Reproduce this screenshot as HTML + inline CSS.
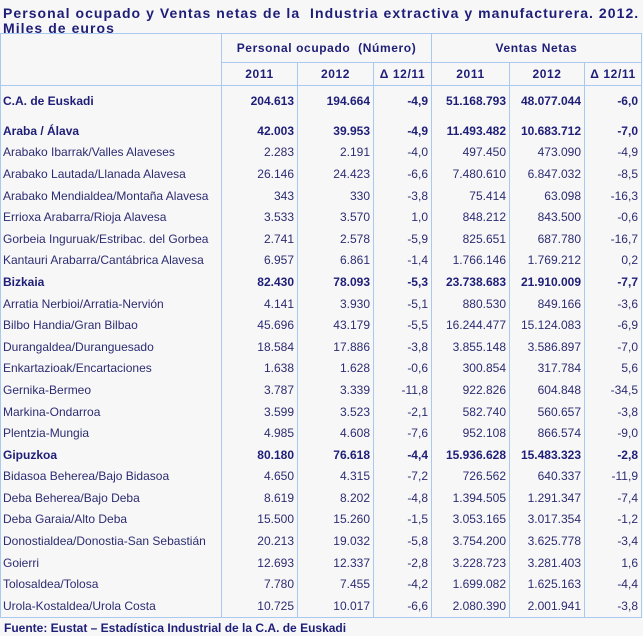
<!DOCTYPE html>
<html><head><meta charset="utf-8"><style>
body{margin:0;width:643px;height:636px;background:#f7f7f7;font-family:"Liberation Sans","DejaVu Sans",sans-serif;color:#2c2c72;overflow:hidden;position:relative}
.t{position:absolute;left:3px;top:6px;font-weight:bold;font-size:14px;line-height:15px;letter-spacing:1.05px;color:#1e1e78;white-space:nowrap}
table{position:absolute;left:0;top:33px;border-collapse:collapse;table-layout:fixed;font-size:12px}
td{padding:0 3px 0 0;text-align:right;white-space:nowrap;border-left:1px solid #a9c9ee;border-right:1px solid #a9c9ee;height:21.6px;line-height:12px;overflow:hidden}
td:first-child{text-align:left;padding-left:2px}
tr.h td{border:1px solid #a9c9ee;text-align:center;font-weight:bold;color:#1e1e78;padding:0;letter-spacing:0.6px}
tr.b td{font-weight:bold;color:#1e1e78}
tr.last td{border-bottom:1px solid #a9c9ee}
.f{position:absolute;left:4px;top:621px;font-weight:bold;font-size:12px;color:#1e1e78}
</style></head><body>
<div class="t">Personal ocupado y Ventas netas de la&nbsp; Industria extractiva y manufacturera. 2012.<br>Miles de euros</div>
<table>
<colgroup><col style="width:221px"><col style="width:76px"><col style="width:76px"><col style="width:58px"><col style="width:78px"><col style="width:75px"><col style="width:57px"></colgroup>
<tr class="h" style="height:29px"><td rowspan="2" style="border-bottom:1px solid #a9c9ee"></td><td colspan="3">Personal ocupado&nbsp; (Número)</td><td colspan="3">Ventas Netas</td></tr>
<tr class="h" style="height:21px"><td style="height:20px">2011</td><td>2012</td><td>Δ 12/11</td><td>2011</td><td>2012</td><td>Δ 12/11</td></tr>
<tr class="b"><td style="height:30px">C.A. de Euskadi</td><td>204.613</td><td>194.664</td><td>-4,9</td><td>51.168.793</td><td>48.077.044</td><td>-6,0</td></tr>
<tr class="b"><td style="height:22px;padding-top:4px">Araba / Álava</td><td style="padding-top:4px">42.003</td><td style="padding-top:4px">39.953</td><td style="padding-top:4px">-4,9</td><td style="padding-top:4px">11.493.482</td><td style="padding-top:4px">10.683.712</td><td style="padding-top:4px">-7,0</td></tr>
<tr><td>Arabako Ibarrak/Valles Alaveses</td><td>2.283</td><td>2.191</td><td>-4,0</td><td>497.450</td><td>473.090</td><td>-4,9</td></tr>
<tr><td>Arabako Lautada/Llanada Alavesa</td><td>26.146</td><td>24.423</td><td>-6,6</td><td>7.480.610</td><td>6.847.032</td><td>-8,5</td></tr>
<tr><td>Arabako Mendialdea/Montaña Alavesa</td><td>343</td><td>330</td><td>-3,8</td><td>75.414</td><td>63.098</td><td>-16,3</td></tr>
<tr><td>Errioxa Arabarra/Rioja Alavesa</td><td>3.533</td><td>3.570</td><td>1,0</td><td>848.212</td><td>843.500</td><td>-0,6</td></tr>
<tr><td>Gorbeia Inguruak/Estribac. del Gorbea</td><td>2.741</td><td>2.578</td><td>-5,9</td><td>825.651</td><td>687.780</td><td>-16,7</td></tr>
<tr><td>Kantauri Arabarra/Cantábrica Alavesa</td><td>6.957</td><td>6.861</td><td>-1,4</td><td>1.766.146</td><td>1.769.212</td><td>0,2</td></tr>
<tr class="b"><td>Bizkaia</td><td>82.430</td><td>78.093</td><td>-5,3</td><td>23.738.683</td><td>21.910.009</td><td>-7,7</td></tr>
<tr><td>Arratia Nerbioi/Arratia-Nervión</td><td>4.141</td><td>3.930</td><td>-5,1</td><td>880.530</td><td>849.166</td><td>-3,6</td></tr>
<tr><td>Bilbo Handia/Gran Bilbao</td><td>45.696</td><td>43.179</td><td>-5,5</td><td>16.244.477</td><td>15.124.083</td><td>-6,9</td></tr>
<tr><td>Durangaldea/Duranguesado</td><td>18.584</td><td>17.886</td><td>-3,8</td><td>3.855.148</td><td>3.586.897</td><td>-7,0</td></tr>
<tr><td>Enkartazioak/Encartaciones</td><td>1.638</td><td>1.628</td><td>-0,6</td><td>300.854</td><td>317.784</td><td>5,6</td></tr>
<tr><td>Gernika-Bermeo</td><td>3.787</td><td>3.339</td><td>-11,8</td><td>922.826</td><td>604.848</td><td>-34,5</td></tr>
<tr><td>Markina-Ondarroa</td><td>3.599</td><td>3.523</td><td>-2,1</td><td>582.740</td><td>560.657</td><td>-3,8</td></tr>
<tr><td>Plentzia-Mungia</td><td>4.985</td><td>4.608</td><td>-7,6</td><td>952.108</td><td>866.574</td><td>-9,0</td></tr>
<tr class="b"><td>Gipuzkoa</td><td>80.180</td><td>76.618</td><td>-4,4</td><td>15.936.628</td><td>15.483.323</td><td>-2,8</td></tr>
<tr><td>Bidasoa Beherea/Bajo Bidasoa</td><td>4.650</td><td>4.315</td><td>-7,2</td><td>726.562</td><td>640.337</td><td>-11,9</td></tr>
<tr><td>Deba Beherea/Bajo Deba</td><td>8.619</td><td>8.202</td><td>-4,8</td><td>1.394.505</td><td>1.291.347</td><td>-7,4</td></tr>
<tr><td>Deba Garaia/Alto Deba</td><td>15.500</td><td>15.260</td><td>-1,5</td><td>3.053.165</td><td>3.017.354</td><td>-1,2</td></tr>
<tr><td>Donostialdea/Donostia-San Sebastián</td><td>20.213</td><td>19.032</td><td>-5,8</td><td>3.754.200</td><td>3.625.778</td><td>-3,4</td></tr>
<tr><td>Goierri</td><td>12.693</td><td>12.337</td><td>-2,8</td><td>3.228.723</td><td>3.281.403</td><td>1,6</td></tr>
<tr><td>Tolosaldea/Tolosa</td><td>7.780</td><td>7.455</td><td>-4,2</td><td>1.699.082</td><td>1.625.163</td><td>-4,4</td></tr>
<tr class="last"><td>Urola-Kostaldea/Urola Costa</td><td>10.725</td><td>10.017</td><td>-6,6</td><td>2.080.390</td><td>2.001.941</td><td>-3,8</td></tr>
</table>
<div class="f">Fuente: Eustat – Estadística Industrial de la C.A. de Euskadi</div>
</body></html>
